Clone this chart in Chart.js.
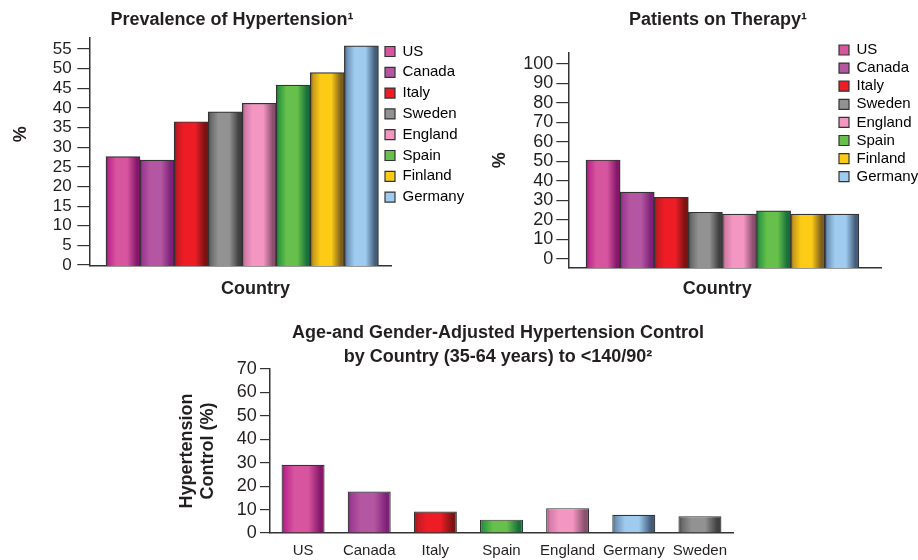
<!DOCTYPE html>
<html>
<head>
<meta charset="utf-8">
<script src="https://cdn.jsdelivr.net/npm/chart.js@4/dist/chart.umd.min.js"></script>
<style>
  html, body { margin: 0; padding: 0; background: #fff; overflow: hidden; }
  body { width: 918px; height: 560px; position: relative; }
  .box { position: absolute; }
</style>
</head>
<body>
<div class="box" style="left:0;top:0;width:480px;height:300px"><canvas id="prev"></canvas></div>
<div class="box" style="left:470px;top:0;width:450px;height:300px"><canvas id="therapy"></canvas></div>
<div class="box" style="left:170px;top:310px;width:655px;height:250px"><canvas id="control"></canvas></div>
<script>
// Data
const countries = ['US', 'Canada', 'Italy', 'Sweden', 'England', 'Spain', 'Finland', 'Germany'];
const prevalence = [27.6, 26.7, 36.5, 39.0, 41.2, 45.8, 49.0, 55.8];
const onTherapy = [50.8, 34.3, 31.6, 24.0, 23.0, 24.7, 23.0, 23.0];
const controlCountries = ['US', 'Canada', 'Italy', 'Spain', 'England', 'Germany', 'Sweden'];
const controlRates = [29.1, 17.7, 9.2, 5.7, 10.6, 7.8, 7.2];
const prevalenceTicks = [0, 5, 10, 15, 20, 25, 30, 35, 40, 45, 50, 55];
const therapyTicks = [0, 10, 20, 30, 40, 50, 60, 70, 80, 90, 100];
const controlTicks = [0, 10, 20, 30, 40, 50, 60, 70];

// dark edge, mid, main face
const barColors = {
    US: ['#86186c', '#bd2a8f', '#d7559e'],
    Canada: ['#7e2179', '#9e3a93', '#b556a2'],
    Italy: ['#7c1313', '#c41a21', '#ee1d25'],
    Sweden: ['#404040', '#6a6a6a', '#929292'],
    England: ['#8a4f6d', '#d47aa6', '#f396c2'],
    Spain: ['#18703a', '#2f9a3f', '#66c04b'],
    Finland: ['#7d5e1e', '#c89a16', '#fbcb16'],
    Germany: ['#445c7a', '#6f93b8', '#9ecbee']
};

const FONT = "'Liberation Sans', Arial, sans-serif";
const INK = '#231f20';
const EDGE = '#333333';

Chart.defaults.font.family = FONT;
Chart.defaults.color = INK;

// cylinder-like shading across each bar
function barFill(ctx, names, frac) {
    const c = barColors[names[ctx.dataIndex]];
    const chart = ctx.chart;
    if (!chart.chartArea || ctx.type !== 'data') return c[2];
    const xs = chart.scales.x;
    const cx = xs.getPixelForValue(ctx.dataIndex);
    const half = (xs.getPixelForValue(1) - xs.getPixelForValue(0)) * frac / 2;
    const g = chart.ctx.createLinearGradient(cx - half, 0, cx + half, 0);
    g.addColorStop(0, c[0]);
    g.addColorStop(0.08, c[1]);
    g.addColorStop(0.3, c[2]);
    g.addColorStop(0.62, c[2]);
    g.addColorStop(0.9, c[0]);
    g.addColorStop(1, c[0]);
    return g;
}

function legendItems(names) {
    return () => names.map((n, i) => ({
        text: n,
        fillStyle: barColors[n][2],
        strokeStyle: EDGE,
        lineWidth: 1.2,
        hidden: false,
        index: i
    }));
}

// move legend and title to where the reference has them
const placeBoxes = {
    id: 'placeBoxes',
    afterLayout(chart, args, opts) {
        const lg = chart.legend;
        if (lg && opts.legendX != null) {
            const pad = chart.options.plugins.legend.labels.padding;
            const w = lg.width, h = lg.height;
            lg.left = opts.legendX - pad;
            lg.top = opts.legendY - pad;
            lg.right = lg.left + w;
            lg.bottom = lg.top + h;
        }
        const tb = chart.titleBlock;
        if (tb && opts.titleX != null) {
            const w = tb.right - tb.left;
            tb.left = opts.titleX - w / 2;
            tb.right = tb.left + w;
        }
    }
};

const titleFont = { size: 18, weight: 'bold', lineHeight: 1.2 };
const axisTitleFont = { size: 18, weight: 'bold', lineHeight: 1.1 };

function yAxis(min, max, tickVals, tickSize, tickLen, tickPad, width, title, titlePad) {
    return {
        type: 'linear',
        min: min,
        max: max,
        afterBuildTicks: s => { s.ticks = tickVals.map(v => ({ value: v })); },
        ticks: { font: { size: tickSize }, padding: tickPad, color: INK, autoSkip: false },
        grid: { drawOnChartArea: false, tickLength: tickLen, color: EDGE, lineWidth: 1.2 },
        border: { color: EDGE, width: 1.5 },
        title: { display: true, text: title, font: axisTitleFont, color: INK, padding: { top: titlePad, bottom: 0 } },
        afterFit: s => { s.width = width; }
    };
}

function topChart(id, values, opt) {
    return new Chart(document.getElementById(id), {
        type: 'bar',
        data: {
            datasets: [{
                data: values.map((v, i) => ({ x: i, y: v })),
                base: opt.yMin,
                backgroundColor: c => barFill(c, countries, 1),
                borderColor: EDGE,
                borderWidth: 1.2,
                barPercentage: 1,
                categoryPercentage: 1
            }]
        },
        options: {
            responsive: true,
            maintainAspectRatio: false,
            animation: false,
            events: [],
            layout: { padding: { left: 0, top: 0, right: opt.padRight, bottom: 0 } },
            plugins: {
                title: { display: true, text: opt.title, font: titleFont, color: INK, padding: opt.titlePad },
                legend: {
                    position: 'chartArea',
                    align: 'start',
                    labels: {
                        generateLabels: legendItems(countries),
                        font: { size: 15 },
                        color: INK,
                        boxWidth: 10,
                        boxHeight: 10,
                        padding: opt.legendPad
                    }
                },
                placeBoxes: opt.place,
                tooltip: { enabled: false }
            },
            scales: {
                x: {
                    type: 'linear',
                    offset: false,
                    min: opt.xMin,
                    max: opt.xMax,
                    afterBuildTicks: s => { s.ticks = countries.map((c, i) => ({ value: i })); },
                    ticks: { display: false },
                    grid: { display: false, drawTicks: false },
                    border: { color: EDGE, width: 1.5 },
                    title: { display: true, text: opt.xTitle, font: axisTitleFont, color: INK, padding: { top: 0, bottom: 1 } },
                    afterFit: s => { s.height = opt.xHeight; }
                },
                y: yAxis(opt.yMin, opt.yMax, opt.ticks, opt.tickSize, opt.tickLen, opt.tickPad, opt.yWidth, opt.yTitle, opt.yTitlePad)
            }
        },
        plugins: [placeBoxes]
    });
}

topChart('prev', prevalence, {
    title: 'Prevalence of Hypertension\u00b9',
    titlePad: { top: 9.7, bottom: 6 },
    padRight: 88.3,
    xMin: -0.99, xMax: 7.89, xHeight: 34,
    xTitle: '      Country',
    yMin: -0.25, yMax: 58, ticks: prevalenceTicks,
    tickSize: 17, tickLen: 12, tickPad: 5.6,
    yWidth: 89.3, yTitle: '       %', yTitlePad: 11.1,
    legendPad: 5.8,
    place: { legendX: 385, legendY: 44, titleX: 232 }
});

topChart('therapy', onTherapy, {
    title: 'Patients on Therapy\u00b9',
    titlePad: { top: 9.7, bottom: 21.4 },
    padRight: 39,
    xMin: -1.02, xMax: 8.15, xHeight: 32,
    xTitle: 'Country   ',
    yMin: -4.6, yMax: 105.8, ticks: therapyTicks,
    tickSize: 18, tickLen: 12, tickPad: 3,
    yWidth: 98.3, yTitle: '%', yTitlePad: 20.1,
    legendPad: 3.1,
    place: { legendX: 369, legendY: 42.5, titleX: 248 }
});

// bottom chart: control rates, category axis with labels
new Chart(document.getElementById('control'), {
    type: 'bar',
    data: {
        labels: controlCountries,
        datasets: [{
            data: controlRates,
            backgroundColor: c => barFill(c, controlCountries, 0.65),
            borderColor: EDGE,
            borderWidth: 1.2,
            barPercentage: 1,
            categoryPercentage: 0.65
        }]
    },
    options: {
        responsive: true,
        maintainAspectRatio: false,
        animation: false,
        events: [],
        layout: { padding: { left: 0, top: 0, right: 92, bottom: 0 } },
        plugins: {
            title: {
                display: true,
                text: ['Age-and Gender-Adjusted Hypertension Control', 'by Country (35-64 years) to <140/90\u00b2'],
                font: { size: 18, weight: 'bold', lineHeight: 1.295 },
                color: INK,
                padding: { top: 11.65, bottom: 0.75 }
            },
            legend: { display: false },
            placeBoxes: { titleX: 328 },
            tooltip: { enabled: false }
        },
        scales: {
            x: {
                ticks: { font: { size: 15 }, padding: 8.5, color: INK, autoSkip: false, maxRotation: 0, minRotation: 0 },
                grid: { display: false, drawTicks: false },
                border: { color: EDGE, width: 1.5 },
                afterFit: s => { s.height = 27; }
            },
            y: (() => {
                const y = yAxis(0, 70, controlTicks, 18, 10, 3.3, 100, ['Hypertension', 'Control (%)'], 6.05);
                y.title.font = { size: 18, weight: 'bold', lineHeight: 1.18 };
                return y;
            })()
        }
    },
    plugins: [placeBoxes]
});
</script>
</body>
</html>
